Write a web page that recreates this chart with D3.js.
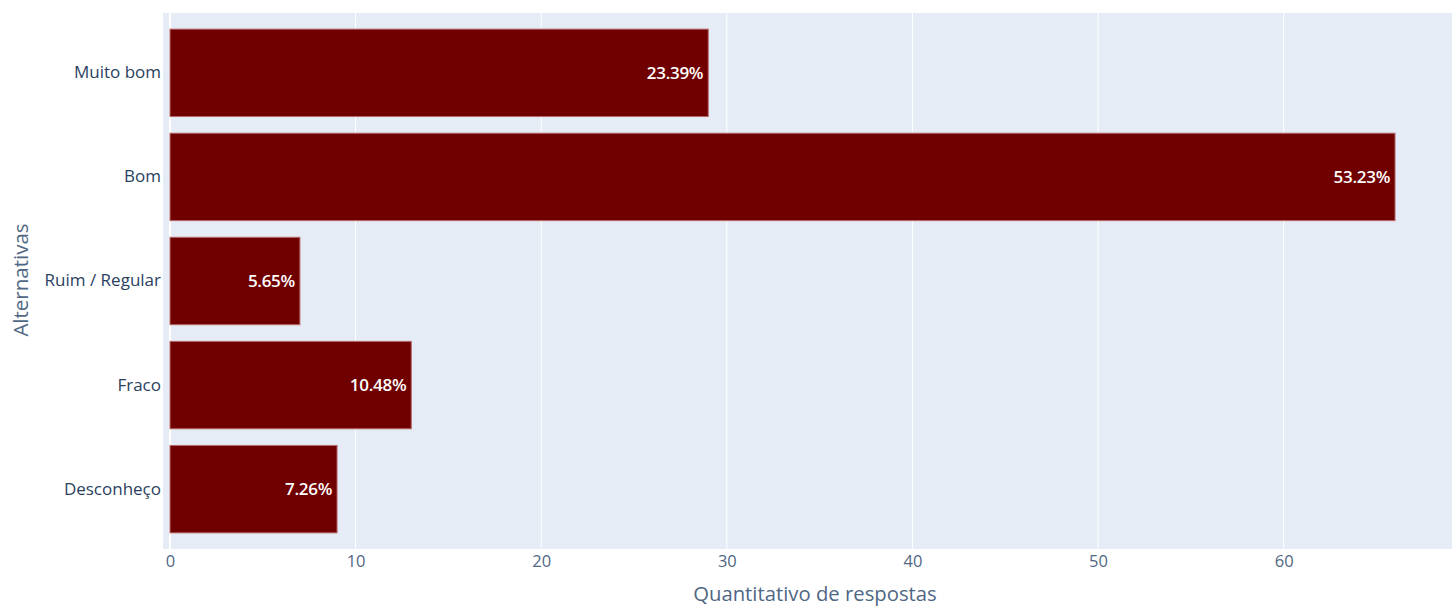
<!DOCTYPE html>
<html>
<head>
<meta charset="utf-8">
<script src="https://cdn.jsdelivr.net/npm/d3@7"></script>
<style>
  html, body { margin: 0; padding: 0; background: #fff; }
  svg { display: block; }
  text { font-family: "Open Sans", "Noto Sans", sans-serif; }
</style>
</head>
<body>
<svg id="chart" width="1452" height="607"></svg>
<script>
const categories = ["Muito bom", "Bom", "Ruim / Regular", "Fraco", "Desconheço"];
const counts = [29, 66, 7, 13, 9];
const percentLabels = ["23.39%", "53.23%", "5.65%", "10.48%", "7.26%"];
const xTicks = [0, 10, 20, 30, 40, 50, 60];
const xTitle = "Quantitativo de respostas";
const yTitle = "Alternativas";

const W = 1452, H = 607;
const plot = { left: 163, right: 1452, top: 13, bottom: 549 };
const svg = d3.select("#chart");

const x = d3.scaleLinear().domain([-0.377, 69.07]).range([plot.left, plot.right]);
const y = d3.scaleLinear().domain([-0.575, categories.length - 1 + 0.575]).range([plot.top, plot.bottom]);
const barH = 0.84;

svg.append("rect")
  .attr("x", plot.left).attr("y", plot.top)
  .attr("width", plot.right - plot.left).attr("height", plot.bottom - plot.top)
  .attr("fill", "#E5ECF6");

// grid
svg.append("g").selectAll("line").data(xTicks).join("line")
  .attr("x1", d => x(d)).attr("x2", d => x(d))
  .attr("y1", plot.top).attr("y2", plot.bottom)
  .attr("stroke", "#fff").attr("stroke-width", d => d === 0 ? 2 : 1);

// bars
const bars = svg.append("g");
bars.selectAll("rect").data(counts).join("rect")
  .attr("x", x(0))
  .attr("y", (d, i) => y(i - barH / 2))
  .attr("width", d => x(d) - x(0))
  .attr("height", y(barH) - y(0))
  .attr("fill", "#700000")
  .attr("stroke", "#b86a6a")
  .attr("stroke-width", 1);

bars.selectAll("text").data(counts).join("text")
  .attr("x", d => x(d) - 5)
  .attr("y", (d, i) => y(i))
  .attr("dy", "0.36em")
  .attr("text-anchor", "end")
  .attr("fill", "#fff")
  .attr("font-size", 17)
  .attr("font-weight", 600)
  .attr("letter-spacing", "-0.3px")
  .text((d, i) => percentLabels[i]);

// x axis tick labels
const xAxis = d3.axisBottom(x).tickValues(xTicks).tickSize(0).tickPadding(0);
const gx = svg.append("g").attr("transform", `translate(0,${plot.bottom + 6})`).call(xAxis);
gx.select(".domain").remove();
gx.selectAll("text").attr("fill", "#506784").attr("font-size", 16.5)
  .attr("font-family", "'Open Sans', sans-serif").attr("dy", "0.71em");

// y axis tick labels
const yBand = d3.scaleBand().domain(categories)
  .range([y(-0.5), y(categories.length - 0.5)]);
const yAxis = d3.axisLeft(yBand).tickSize(0).tickPadding(0);
const gy = svg.append("g").attr("transform", `translate(${plot.left - 2},0)`).call(yAxis);
gy.select(".domain").remove();
gy.selectAll("text").attr("fill", "#2a3f5f").attr("font-size", 17)
  .attr("font-family", "'Open Sans', sans-serif");

// axis titles
svg.append("text")
  .attr("x", 815).attr("y", 601)
  .attr("text-anchor", "middle").attr("fill", "#506784").attr("font-size", 20.3)
  .text(xTitle);

svg.append("text")
  .attr("transform", `translate(28,280) rotate(-90)`)
  .attr("text-anchor", "middle").attr("fill", "#506784").attr("font-size", 20.5)
  .text(yTitle);
</script>
</body>
</html>
